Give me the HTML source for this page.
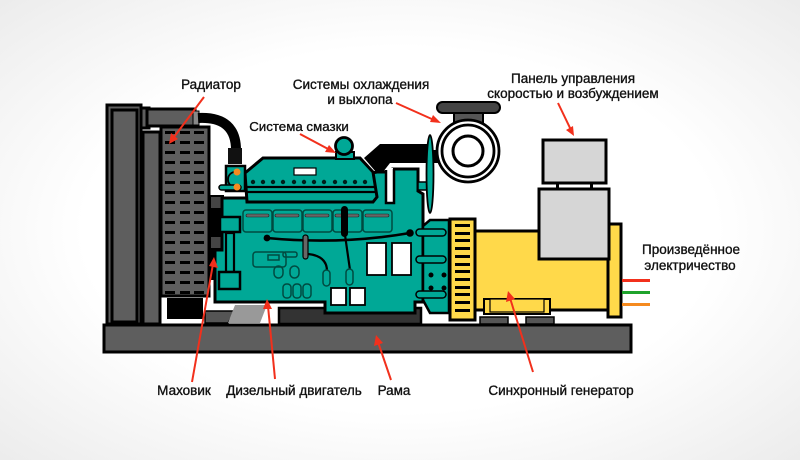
<!DOCTYPE html>
<html><head><meta charset="utf-8"><style>
html,body{margin:0;padding:0;width:800px;height:460px;overflow:hidden;background:#fff}
svg{display:block}
text{font-family:"Liberation Sans",Arial,sans-serif;font-size:13.5px;fill:#111;stroke:#111;stroke-width:.35px;text-anchor:middle}
.k{stroke:#000;stroke-width:3}
.g{fill:#5e5e5e}
.t{fill:#00a896}
.y{fill:#ffd94a}
.l{fill:#d6d6d6}
.a{stroke:#f2301c;stroke-width:2;fill:none}
.h{fill:#f2301c}
.d{fill:none;stroke:#004a40;stroke-width:1.500}
</style></head><body>
<svg width="800" height="460" viewBox="0 0 800 460" xmlns="http://www.w3.org/2000/svg">
<defs><radialGradient id="b" cx="50%" cy="50%" r="72%"><stop offset="55%" stop-color="#ffffff"/><stop offset="100%" stop-color="#ebebeb"/></radialGradient></defs>
<rect width="800" height="460" fill="url(#b)"/>

<!-- radiator -->
<rect class="k g" x="107" y="105" width="34" height="219"/>
<rect class="k g" x="112" y="110" width="25" height="212"/>
<rect class="k g" x="143" y="132" width="17" height="192"/>
<rect class="k g" x="141" y="108" width="8" height="20"/>
<rect class="k g" x="147" y="109" width="48" height="17"/>
<rect x="193" y="111" width="6" height="14" fill="#888" stroke="#000"/>
<path d="M198 118 Q237 116 236 152" fill="none" stroke="#000" stroke-width="10"/>
<rect x="162" y="296" width="50" height="29" fill="#fff"/>
<rect x="167" y="298" width="36" height="21" fill="#000"/>
<rect class="k g" x="161" y="127" width="48" height="169"/>
<g fill="#000">
<rect x="165" y="131" width="10" height="3"/><rect x="180" y="131" width="10" height="3"/><rect x="194" y="131" width="10" height="3"/>
<rect x="165" y="141" width="10" height="3"/><rect x="180" y="141" width="10" height="3"/><rect x="194" y="141" width="10" height="3"/>
<rect x="165" y="151" width="10" height="3"/><rect x="180" y="151" width="10" height="3"/><rect x="194" y="151" width="10" height="3"/>
<rect x="165" y="161" width="10" height="3"/><rect x="180" y="161" width="10" height="3"/><rect x="194" y="161" width="10" height="3"/>
<rect x="165" y="171" width="10" height="3"/><rect x="180" y="171" width="10" height="3"/><rect x="194" y="171" width="10" height="3"/>
<rect x="165" y="181" width="10" height="3"/><rect x="180" y="181" width="10" height="3"/><rect x="194" y="181" width="10" height="3"/>
<rect x="165" y="191" width="10" height="3"/><rect x="180" y="191" width="10" height="3"/><rect x="194" y="191" width="10" height="3"/>
<rect x="165" y="201" width="10" height="3"/><rect x="180" y="201" width="10" height="3"/><rect x="194" y="201" width="10" height="3"/>
<rect x="165" y="211" width="10" height="3"/><rect x="180" y="211" width="10" height="3"/><rect x="194" y="211" width="10" height="3"/>
<rect x="165" y="221" width="10" height="3"/><rect x="180" y="221" width="10" height="3"/><rect x="194" y="221" width="10" height="3"/>
<rect x="165" y="231" width="10" height="3"/><rect x="180" y="231" width="10" height="3"/><rect x="194" y="231" width="10" height="3"/>
<rect x="165" y="241" width="10" height="3"/><rect x="180" y="241" width="10" height="3"/><rect x="194" y="241" width="10" height="3"/>
<rect x="165" y="251" width="10" height="3"/><rect x="180" y="251" width="10" height="3"/><rect x="194" y="251" width="10" height="3"/>
<rect x="165" y="261" width="10" height="3"/><rect x="180" y="261" width="10" height="3"/><rect x="194" y="261" width="10" height="3"/>
<rect x="165" y="271" width="10" height="3"/><rect x="180" y="271" width="10" height="3"/><rect x="194" y="271" width="10" height="3"/>
<rect x="165" y="281" width="10" height="3"/><rect x="180" y="281" width="10" height="3"/><rect x="194" y="281" width="10" height="3"/>
<rect x="165" y="291" width="10" height="3"/><rect x="180" y="291" width="10" height="3"/><rect x="194" y="291" width="10" height="3"/>
</g>

<!-- flywheel back -->
<rect x="210" y="195" width="14" height="85" fill="#000"/>
<rect x="211" y="197" width="11" height="11" fill="#444"/>
<rect x="211" y="237" width="11" height="11" fill="#444"/>

<!-- exhaust -->
<path d="M364 158 L380 144 L428 144 L428 150 L440 150 L440 163 L390 163 L383 172 L376 172 Z" fill="#000"/>

<!-- base -->
<rect class="k g" x="104" y="325" width="527" height="27"/>
<!-- mounts -->
<path d="M205 311 L235 311 L228 323 L205 323 Z" fill="#555" stroke="#000" stroke-width="1.500"/>
<path d="M235 305 L267 305 L260 323 L228 323 Z" fill="#999"/>
<rect x="279" y="308" width="142" height="16" fill="#333" stroke="#000" stroke-width="2.500"/>

<!-- engine block -->
<path class="k t" d="M222 198 L250 198 L377 172 L387 172 L387 202 L393 202 L393 169 L418 169 L418 191 L423 194 L423 302 L415 302 L415 313 L325 313 L325 302 L215 302 L215 250 L222 250 Z"/>
<rect x="387" y="168" width="6" height="34" fill="#fff"/>
<path d="M386 170 L386 203 L394 203 L394 169" fill="none" stroke="#000" stroke-width="2.500"/>
<!-- cover -->
<path class="k t" d="M245 173 L263 158 L360 158 L373 172 L377 197 L373 202 L247 202 Z"/>
<path d="M245 187 L376 187 M246 192 L376 192" stroke="#000" stroke-width="2.200" fill="none"/>
<rect x="294" y="168" width="22" height="7" fill="#fff" stroke="#000" stroke-width="1.200"/>
<g fill="#001f1a"><circle cx="253" cy="182" r="2.200"/><circle cx="263" cy="182" r="2.200"/><circle cx="273" cy="182" r="2.200"/><circle cx="283" cy="182" r="2.200"/><circle cx="294" cy="182" r="2.200"/><circle cx="304" cy="182" r="2.200"/><circle cx="314" cy="182" r="2.200"/><circle cx="324" cy="182" r="2.200"/><circle cx="335" cy="182" r="2.200"/><circle cx="345" cy="182" r="2.200"/><circle cx="355" cy="182" r="2.200"/><circle cx="365" cy="182" r="2.200"/></g>
<!-- oil filter -->
<rect x="336" y="152" width="18" height="7" class="t" stroke="#000" stroke-width="2"/>
<circle cx="344" cy="146" r="8.500" class="t" stroke="#000" stroke-width="2.800"/>
<!-- thermostat -->
<rect x="228" y="148" width="14" height="16" fill="#111"/>
<rect class="t" x="226" y="166" width="19" height="25" stroke="#000" stroke-width="2.500"/>
<path d="M235 172 A7 7.500 0 0 0 235 187" fill="none" stroke="#000" stroke-width="1.800"/>
<rect class="t" x="219" y="185" width="22" height="5" rx="2.500" stroke="#000" stroke-width="1.500"/>
<circle cx="237" cy="172" r="3.500" fill="#f58a1f"/><circle cx="237" cy="187" r="3.500" fill="#f58a1f"/>

<!-- cylinder panels -->
<g fill="#00a896" stroke="#004a40" stroke-width="1.500">
<rect x="243" y="210" width="29" height="22" rx="3"/><rect x="273" y="210" width="29" height="22" rx="3"/><rect x="303" y="210" width="29" height="22" rx="3"/><rect x="333" y="210" width="29" height="22" rx="3"/><rect x="363" y="210" width="29" height="22" rx="3"/>
</g>
<g fill="#666" stroke="#222" stroke-width=".6">
<rect x="246" y="214" width="23" height="3" rx="1.500"/><rect x="275" y="214" width="24" height="3" rx="1.500"/><rect x="305" y="214" width="24" height="3" rx="1.500"/><rect x="335" y="214" width="24" height="3" rx="1.500"/><rect x="365" y="214" width="24" height="3" rx="1.500"/>
</g>
<!-- pipes -->
<path d="M267 238 Q340 245 410 233" fill="none" stroke="#000" stroke-width="2.600"/>
<circle cx="267" cy="238" r="3.400" fill="#000"/><circle cx="410" cy="233" r="3.800" fill="#000"/>
<rect x="341" y="206" width="7" height="31" rx="3.500" fill="#000"/>
<path d="M345 235 L350 270" stroke="#000" stroke-width="2.200" fill="none"/>
<rect x="303" y="235" width="5" height="24" rx="2.500" fill="#666" stroke="#000" stroke-width="1.200"/>
<path d="M308 254 Q327 256 327 271" fill="none" stroke="#000" stroke-width="2.200"/>
<rect class="t" x="323" y="270" width="7" height="16" rx="3.500" stroke="#004a40" stroke-width="1.500"/>
<rect class="t" x="346" y="269" width="7" height="16" rx="3.500" stroke="#004a40" stroke-width="1.500"/>
<!-- left mounts -->
<rect class="t" x="220" y="217" width="20" height="15" stroke="#000" stroke-width="2.500"/>
<rect class="t" x="226" y="233" width="8" height="39" stroke="#000" stroke-width="2.200"/>
<rect class="t" x="219" y="272" width="21" height="17" stroke="#000" stroke-width="2.500"/>
<!-- details -->
<rect x="253" y="252" width="33" height="15" rx="3" class="d"/>
<rect x="268" y="255" width="11" height="5" class="d"/>
<rect x="283" y="252" width="14" height="5" rx="2" class="d"/>
<rect x="274" y="266" width="9" height="12" rx="4.500" class="d"/><rect x="290" y="266" width="9" height="12" rx="4.500" class="d"/>
<rect x="283" y="284" width="8" height="14" rx="3.500" class="d"/><rect x="293" y="284" width="8" height="14" rx="3.500" class="d"/><rect x="303" y="284" width="8" height="14" rx="3.500" class="d"/>
<!-- windows -->
<g fill="#fff" stroke="#000" stroke-width="1.800">
<rect x="367" y="243" width="19" height="32"/><rect x="392" y="243" width="19" height="32"/>
<rect x="331" y="288" width="15" height="17"/><rect x="350" y="288" width="15" height="17"/>
</g>

<!-- turbo -->
<rect x="454" y="113" width="29" height="12" fill="#555" stroke="#000" stroke-width="2"/>
<rect x="437" y="102" width="63" height="11" rx="5.500" fill="#444" stroke="#000" stroke-width="2"/>
<circle cx="468" cy="151" r="31" fill="#fff" stroke="#000" stroke-width="2.800"/>
<circle cx="468" cy="151" r="26" fill="none" stroke="#000" stroke-width="2.800"/>
<circle cx="468" cy="151" r="15" fill="#fff" stroke="#000" stroke-width="3"/>
<path d="M418 182 L428 182 L428 190 L418 190 Z" class="t" stroke="#000" stroke-width="1.500"/>
<ellipse cx="430" cy="174" rx="3.500" ry="39" class="t" stroke="#000" stroke-width="1.800"/>

<!-- housing -->
<path class="t" stroke="#000" stroke-width="2.500" d="M430 220 L449 220 L449 313 L430 313 L423 300 L423 226 Z"/>
<g class="t" stroke="#000" stroke-width="1.500">
<rect x="416" y="229" width="30" height="7" rx="3.500"/><rect x="416" y="256" width="30" height="7" rx="3.500"/><rect x="416" y="291" width="30" height="7" rx="3.500"/>
</g>
<g fill="#000"><circle cx="431" cy="275" r="2.500"/><circle cx="444" cy="275" r="2.500"/><circle cx="431" cy="288" r="2.500"/><circle cx="444" cy="288" r="2.500"/></g>

<!-- generator -->
<rect class="k y" x="475" y="231" width="134" height="79"/>
<rect class="k y" x="608" y="224" width="13" height="93"/>
<rect class="k y" x="450" y="219" width="25" height="101"/>
<g fill="#000">
<rect x="455" y="224" width="15" height="3"/><rect x="455" y="232" width="15" height="3"/><rect x="455" y="239" width="15" height="3"/><rect x="455" y="247" width="15" height="3"/><rect x="455" y="255" width="15" height="3"/><rect x="455" y="263" width="15" height="3"/><rect x="455" y="270" width="15" height="3"/><rect x="455" y="278" width="15" height="3"/><rect x="455" y="286" width="15" height="3"/><rect x="455" y="293" width="15" height="3"/><rect x="455" y="301" width="15" height="3"/><rect x="455" y="309" width="15" height="3"/>
</g>
<rect x="484" y="299" width="66" height="15" fill="#ffd94a" stroke="#000" stroke-width="2"/>
<rect x="490" y="299" width="54" height="13" fill="#ffd94a" stroke="#000" stroke-width="1.200"/>
<rect x="480" y="317" width="28" height="7" fill="#555" stroke="#000" stroke-width="1.500"/>
<rect x="526" y="317" width="28" height="7" fill="#555" stroke="#000" stroke-width="1.500"/>
<rect x="556" y="183" width="3" height="7" fill="#000"/><rect x="590" y="183" width="3" height="7" fill="#000"/>
<rect class="k l" x="543" y="140" width="63" height="43"/>
<rect class="k l" x="539" y="189" width="70" height="70"/>
<rect x="622" y="279" width="28" height="3" fill="#f2301c"/>
<rect x="622" y="291" width="28" height="3" fill="#1fa32c"/>
<rect x="622" y="303" width="28" height="3" fill="#f58a1f"/>

<!-- arrows -->
<path class="a" d="M204 97 L174 137"/><path class="h" d="M169 144 L171 133 L178 139 Z"/>
<path class="a" d="M300 134 L330 150"/><path class="h" d="M336 153 L325 152 L329 145 Z"/>
<path class="a" d="M396 103 L434 120"/><path class="h" d="M441 123 L430 122 L433 115 Z"/>
<path class="a" d="M558 103 L571 130"/><path class="h" d="M574 136 L566 130 L573 126 Z"/>
<path class="a" d="M192 382 L213 264"/><path class="h" d="M214 257 L218 268 L209 266 Z"/>
<path class="a" d="M275 379 L268 306"/><path class="h" d="M267 299 L272 309 L263 309 Z"/>
<path class="a" d="M391 380 L378 342"/><path class="h" d="M376 335 L383 343 L374 346 Z"/>
<path class="a" d="M533 372 L510 298"/><path class="h" d="M508 291 L515 299 L506 302 Z"/>

<!-- labels -->
<text x="211" y="89">Радиатор</text>
<text x="361" y="89">Системы охлаждения</text>
<text x="360" y="104">и выхлопа</text>
<text x="299" y="131" style="font-size:13.300px">Система смазки</text>
<text x="573" y="83">Панель управления</text>
<text x="573" y="98">скоростью и возбуждением</text>
<text x="691" y="254">Произведённое</text>
<text x="690" y="270">электричество</text>
<text x="184" y="395">Маховик</text>
<text x="294" y="395">Дизельный двигатель</text>
<text x="394" y="395">Рама</text>
<text x="561" y="395">Синхронный генератор</text>
</svg>
</body></html>
